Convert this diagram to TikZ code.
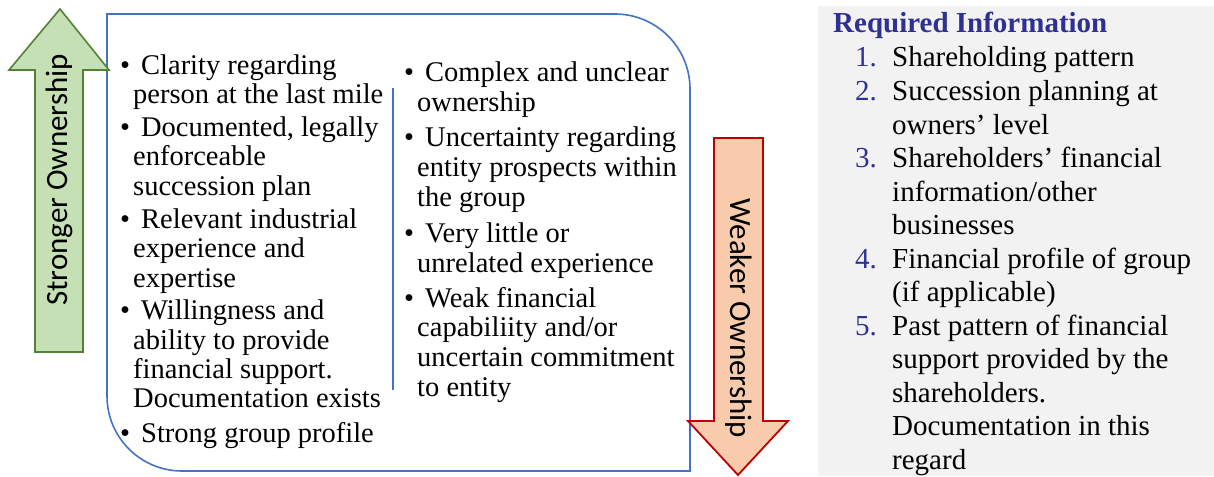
\documentclass[tikz,border=0pt]{standalone}
\usepackage{fontspec}
\setmainfont{Liberation Serif}
\newfontfamily\arrowfont{Carlito}
\usetikzlibrary{positioning}
\definecolor{boxblue}{HTML}{4472C4}
\definecolor{upfill}{HTML}{C5E0B4}
\definecolor{updraw}{HTML}{548235}
\definecolor{downfill}{HTML}{F8CBAD}
\definecolor{downdraw}{HTML}{C00000}
\definecolor{infogray}{HTML}{F2F2F2}
\definecolor{infoblue}{HTML}{2E3192}
\tikzset{
  pt/.style={anchor=base west, align=left, inner sep=0pt, font=\fontsize{28.5}{29.2}\selectfont},
  midpt/.style={pt, font=\fontsize{28.5}{29.6}\selectfont},
  req/.style={anchor=base west, align=left, inner sep=0pt, font=\fontsize{29}{33.5}\selectfont},
  num/.style={req, text=infoblue},
  arrowlabel/.style={inner sep=0pt, font=\arrowfont\fontsize{31}{31}\selectfont}
}
\newcommand{\bul}{\llap{\textbullet\hspace{3pt}}\hspace*{8pt}}

\begin{document}
\begin{tikzpicture}[x=1pt,y=-1pt]
\useasboundingbox (0,0) rectangle (1214,476);
\fill[infogray] (818,6) rectangle (1214,476);
       \draw[boxblue,line width=1.6pt] (107,14)--(615,14) arc[start angle=90,end angle=0,radius=75pt]
       --(690,471)--(182,471) arc[start angle=270,end angle=180,radius=75pt]--cycle;
       \draw[boxblue,line width=1.4pt] (393,88)--(393,390);
\draw[updraw,fill=upfill,line width=1.6pt] (60,9)--(109,70)--(83,70)--(83,352)--(35,352)--(35,70)--(9,70)--cycle;
\node[arrowlabel,rotate=90] (strong) at (59,180) {Stronger Ownership};
\draw[downdraw,fill=downfill,line width=1.8pt] (714,138)--(763,138)--(763,421)--(788,421)--(738,475)--(688,421)--(714,421)--cycle;
\node[arrowlabel,rotate=-90] (weak) at (739,318) {Weaker Ownership};
% base anchor = last line
\node[pt] (clarity) at (133,103.5) {\bul Clarity regarding\\person at the last mile};
\node[pt] (documented) at (133,195) {\bul Documented, legally\\enforceable\\succession plan};
\node[pt] (relevant) at (133,287) {\bul Relevant industrial\\experience and\\expertise};
\node[pt] (willing) at (133,407.5) {\bul Willingness and\\ability to provide\\financial support.\\Documentation exists};
\node[pt] (group) at (133,442) {\bul Strong group profile};
\node[midpt] (complex) at (417,111.5) {\bul Complex and unclear\\ownership};
\node[midpt] (uncertain) at (417,206) {\bul Uncertainty regarding\\entity prospects within\\the group};
\node[midpt] (little) at (417,272) {\bul Very little or\\unrelated experience};
\node[midpt] (weakfin) at (417,396) {\bul Weak financial\\capabiliity and/or\\uncertain commitment\\to entity};
\node[req,text=infoblue,font=\bfseries\fontsize{29}{33.5}\selectfont] (reqinfo) at (833,33) {Required Information};
\foreach \n/\y in {1/67,2/100.5,3/167.5,4/268,5/335}
  \node[num] (num\n) at (855,\y) {\n.};
\node[req] (item1) at (892,67) {Shareholding pattern};
\node[req] (item2) at (892,134) {Succession planning at\\owners’ level};
\node[req] (item3) at (892,234.5) {Shareholders’ financial\\information/other\\businesses};
\node[req] (item4) at (892,301.5) {Financial profile of group\\(if applicable)};
\node[req] (item5) at (892,469) {Past pattern of financial\\support provided by the\\shareholders.\\Documentation in this\\regard};
       \end{tikzpicture}
\end{document}
